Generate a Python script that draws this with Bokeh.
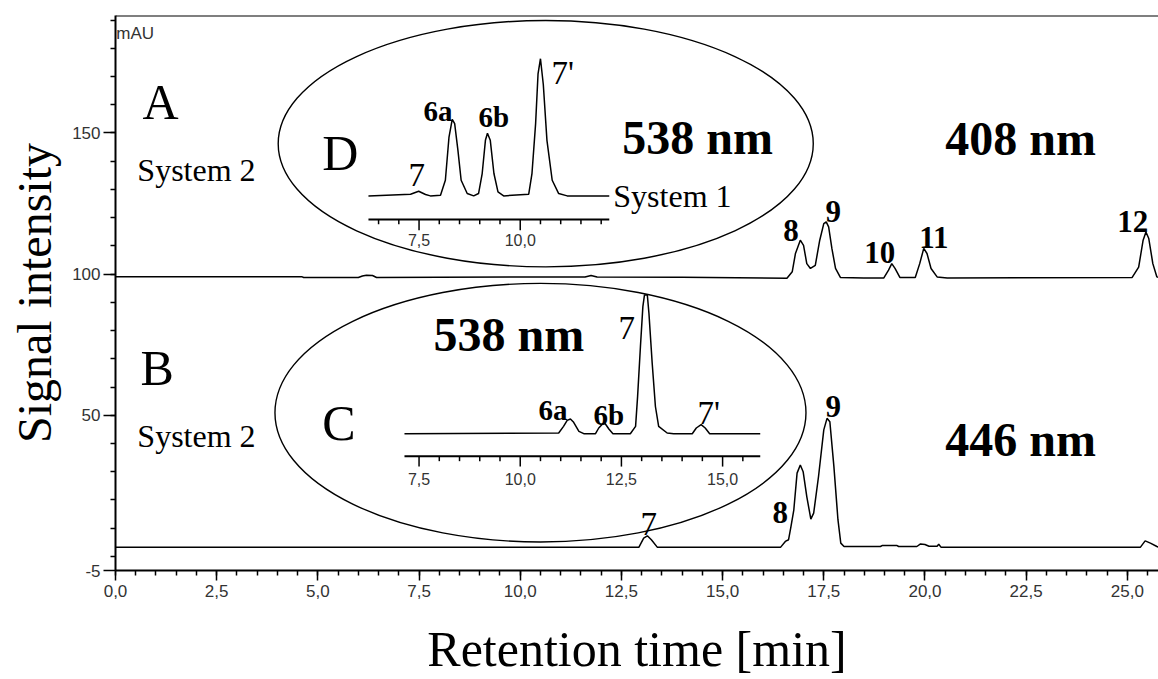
from bokeh.plotting import figure
from bokeh.models import Range1d, FixedTicker, Span
from bokeh.core.properties import value
from bokeh.embed import file_html
from bokeh.resources import INLINE

# ---------------- data ----------------
# Trace A: System 2, 408 nm  (time [min], signal [mAU])
a_time = [0.0, 2.0, 4.6, 4.65, 6.0, 6.1, 6.2, 6.35, 6.45, 8.0, 10.0, 11.6, 11.75, 11.9, 14.0,
          16.59, 16.72, 16.80, 16.92, 17.00, 17.08, 17.17, 17.29, 17.40, 17.50, 17.56, 17.62,
          17.70, 17.79, 17.91, 18.49, 18.98, 19.10, 19.18, 19.26, 19.38, 19.76, 19.87, 19.97,
          20.05, 20.15, 20.30, 20.55, 25.12, 25.28, 25.39, 25.46, 25.53, 25.63, 25.73, 25.77]
a_signal = [99.1, 99.1, 99.1, 98.8, 98.8, 99.3, 99.6, 99.5, 98.8, 98.9, 99.0, 99.0, 99.5, 99.0, 98.9,
            98.5, 100.8, 107.3, 112.0, 110.2, 103.7, 102.0, 103.1, 112.0, 117.9, 118.5, 116.7,
            109.1, 102.0, 98.8, 98.6, 98.6, 101.4, 103.7, 102.0, 98.8, 98.8, 103.7, 109.1,
            107.3, 102.0, 99.0, 98.6, 98.8, 102.5, 112.0, 114.9, 112.6, 103.7, 99.0, 98.8]

# Trace B: System 2, 446 nm
b_time = [0.0, 12.93, 13.05, 13.14, 13.24, 13.39, 16.43, 16.55, 16.63, 16.69, 16.76, 16.84,
          16.92, 16.99, 17.08, 17.18, 17.25, 17.37, 17.50, 17.58, 17.65, 17.75, 17.85, 17.92,
          18.00, 18.90, 18.95, 19.30, 19.35, 19.80, 19.89, 20.00, 20.10, 20.30, 20.34, 20.40,
          25.32, 25.44, 25.57, 25.73, 25.77]
b_signal = [3.2, 3.2, 6.5, 7.3, 5.9, 3.2, 3.2, 5.3, 5.9, 10.6, 16.5, 29.5,
            32.4, 30.0, 21.2, 13.2, 15.3, 28.3, 44.8, 48.9, 47.7, 31.8, 13.0, 4.7,
            3.5, 3.5, 3.9, 3.9, 3.5, 3.5, 4.4, 4.2, 3.6, 3.6, 4.3, 3.2,
            3.2, 5.5, 4.7, 3.5, 3.3]

# Inset D: System 1, 538 nm (relative signal)
d_time = [6.25, 7.29, 7.49, 7.66, 7.78, 8.03, 8.15, 8.24, 8.32, 8.38, 8.46, 8.54, 8.69, 8.85,
          8.97, 9.06, 9.14, 9.19, 9.26, 9.35, 9.45, 9.59, 10.21, 10.29, 10.38, 10.44, 10.50,
          10.57, 10.66, 10.79, 10.95, 11.16, 12.2]
d_signal = [0, 1.2, 3.4, 1.0, 0, 0.5, 11.4, 42.9, 55.8, 52.7, 33.3, 11.4, 1.7, 0,
            1.7, 16.3, 40.5, 45.6, 40.5, 16.3, 2.9, 0, 1.2, 16.3, 52.7, 89.0, 100,
            81.2, 40.5, 11.4, 1.7, 0, 0]

# Inset C: System 2, 538 nm (relative signal)
c_time = [7.14, 10.95, 11.07, 11.16, 11.24, 11.32, 11.45, 11.57, 11.86, 11.94, 12.04, 12.10,
          12.19, 12.29, 12.72, 12.85, 12.90, 12.97, 13.03, 13.07, 13.14, 13.18, 13.26, 13.34,
          13.42, 13.63, 13.79, 14.25, 14.35, 14.47, 14.57, 14.68, 15.93]
c_signal = [0, 0.5, 5.3, 9.6, 10.6, 8.2, 1.7, 0, 0, 4.1, 7.2, 7.2,
            3.4, 0, 0, 5.3, 26.9, 62.8, 91.6, 100, 100, 86.8, 50.9, 19.6,
            5.3, 0.5, 0, 0, 4.1, 6.5, 4.1, 0, 0]

# Main axis ticks
x_ticks = [0.0, 2.5, 5.0, 7.5, 10.0, 12.5, 15.0, 17.5, 20.0, 22.5, 25.0]
x_tick_labels = ["0,0", "2,5", "5,0", "7,5", "10,0", "12,5", "15,0", "17,5", "20,0", "22,5", "25,0"]
x_minor_ticks = [i * 0.5 for i in range(52)]
y_ticks = [-5, 50, 100, 150]
y_tick_labels = ["-5", "50", "100", "150"]
y_minor_ticks = [i * 10 for i in range(20)]

# Inset axes ticks
d_ticks = [7.5, 10.0]
d_tick_labels = ["7,5", "10,0"]
d_minor_ticks = [6.5, 7.0, 8.0, 8.5, 9.0, 9.5, 10.5, 11.0, 11.5, 12.0]
c_ticks = [7.5, 10.0, 12.5, 15.0]
c_tick_labels = ["7,5", "10,0", "12,5", "15,0"]
c_minor_ticks = [8.0, 8.5, 9.0, 9.5, 10.5, 11.0, 11.5, 12.0, 13.0, 13.5, 14.0, 14.5, 15.5]

# ---------------- layout constants ----------------
X_END = 25.77
Y_START, Y_END = -5, 191.6
D_RANGE = (-273.1, 131.5)
C_RANGE = (-98.6, 301.4)
D_AXIS = dict(start=6.25, end=12.2, line=-17.3, major=-25.0, minor=-20.6, label=-32.2)
C_AXIS = dict(start=7.14, end=15.93, line=-16.3, major=-23.7, minor=-19.8, label=-32.6)

SERIF = value("Liberation Serif")
SANS = value("Liberation Sans")

p = figure(width=1158, height=679, x_range=Range1d(0, X_END), y_range=Range1d(Y_START, Y_END),
           output_backend="svg", toolbar_location=None,
           min_border_left=115, min_border_right=0, min_border_top=15, min_border_bottom=108)
p.extra_y_ranges = {"insetD": Range1d(*D_RANGE), "insetC": Range1d(*C_RANGE)}
p.grid.visible = False
p.outline_line_color = None
p.background_fill_color = "white"
p.border_fill_color = "white"

# axes
xa = p.xaxis[0]
xa.ticker = FixedTicker(ticks=x_ticks, minor_ticks=x_minor_ticks)
xa.major_label_overrides = dict(zip(x_ticks, x_tick_labels))
ya = p.yaxis[0]
ya.ticker = FixedTicker(ticks=y_ticks, minor_ticks=y_minor_ticks)
ya.major_label_overrides = dict(zip(y_ticks, y_tick_labels))
for ax in (xa, ya):
    ax.axis_line_width = 2
    ax.axis_line_color = "black"
    ax.major_tick_line_color = "black"
    ax.minor_tick_line_color = "black"
    ax.major_tick_line_width = 1.5
    ax.minor_tick_line_width = 1.5
    ax.major_tick_in = 0
    ax.minor_tick_in = 0
    ax.major_label_text_font = "Liberation Sans"
    ax.major_label_text_font_size = "17px"
    ax.major_label_text_color = "#333333"
    ax.axis_label_text_font = "Liberation Serif"
    ax.axis_label_text_font_style = "normal"
    ax.axis_label_text_color = "black"
    ax.axis_label_text_line_height = 1.0
    ax.major_label_text_line_height = 1.0
xa.major_tick_out = 10
xa.minor_tick_out = 5
xa.major_label_standoff = 4
xa.axis_label = "Retention time [min]"
xa.axis_label_text_font_size = "50px"
xa.axis_label_standoff = 21
ya.major_tick_out = 12
ya.minor_tick_out = 5
ya.major_label_standoff = 3
ya.axis_label = "Signal intensity"
ya.axis_label_text_font_size = "48px"
ya.axis_label_standoff = 8

p.add_layout(Span(location=Y_END, dimension="width", line_color="black", line_width=2))

# main traces
p.line(a_time, a_signal, line_color="black", line_width=1.5)
p.line(b_time, b_signal, line_color="black", line_width=1.5)

# ellipses (annotations)
p.ellipse(x=[10.63, 10.50], y=[146.2, 50.9], width=[13.22, 13.12], height=[87.3, 91.6],
          fill_color=None, line_color="black", line_width=1.4)

# insets
for rname, t, s, ax, ticks, labels, minors in (
        ("insetD", d_time, d_signal, D_AXIS, d_ticks, d_tick_labels, d_minor_ticks),
        ("insetC", c_time, c_signal, C_AXIS, c_ticks, c_tick_labels, c_minor_ticks)):
    p.line(t, s, y_range_name=rname, line_color="black", line_width=1.5)
    p.segment(x0=[ax["start"]], y0=[ax["line"]], x1=[ax["end"]], y1=[ax["line"]],
              y_range_name=rname, line_color="black", line_width=2)
    p.segment(x0=ticks, y0=[ax["line"]] * len(ticks), x1=ticks, y1=[ax["major"]] * len(ticks),
              y_range_name=rname, line_color="black", line_width=1.5)
    p.segment(x0=minors, y0=[ax["line"]] * len(minors), x1=minors, y1=[ax["minor"]] * len(minors),
              y_range_name=rname, line_color="black", line_width=1.5)
    p.text(x=ticks, y=[ax["label"]] * len(ticks), text=labels, y_range_name=rname,
           text_font=SANS, text_font_size="16px", text_color="#333333",
           text_align="center", text_baseline="middle")

# text annotations: (x [min], y [mAU], text)
big_regular = [(0.67, 160.8, "A"), (5.11, 142.8, "D"), (0.62, 66.8, "B"), (5.11, 47.3, "C")]
system_labels = [(0.54, 136.8, "System 2"), (12.30, 127.6, "System 1"), (0.54, 42.7, "System 2")]
wavelengths = [(12.52, 148.5, "538 nm"), (20.50, 148.1, "408 nm"),
               (7.86, 78.5, "538 nm"), (20.50, 41.3, "446 nm")]
peak_bold = [(16.50, 115.6, "8"), (17.54, 122.0, "9"), (18.50, 107.8, "10"), (19.86, 113.1, "11"),
             (24.75, 118.8, "12"), (16.23, 15.5, "8"), (17.54, 53.0, "9")]
inset_bold = [(7.61, 157.6, "6a"), (8.97, 155.5, "6b"), (10.45, 51.9, "6a"), (11.81, 50.2, "6b")]
peak_regular = [(7.24, 135.0, "7"), (10.77, 171.1, "7'"), (12.43, 80.9, "7"), (14.38, 50.9, "7'"),
                (12.97, 11.6, "7")]

def add_text(items, size, style):
    p.text(x=[i[0] for i in items], y=[i[1] for i in items], text=[i[2] for i in items],
           text_font=SERIF, text_font_size=size, text_font_style=style, text_color="black",
           text_align="left", text_baseline="alphabetic")

add_text(big_regular, "50px", "normal")
add_text(system_labels, "32px", "normal")
add_text(wavelengths, "48px", "bold")
add_text(peak_bold, "31px", "bold")
add_text(inset_bold, "29px", "bold")
add_text(peak_regular, "33px", "normal")

p.text(x=[0.02], y=[185.2], text=["mAU"], text_font=SANS, text_font_size="17px",
       text_color="#333333", text_align="left", text_baseline="alphabetic")

open("out.html", "w").write(file_html(p, INLINE))
